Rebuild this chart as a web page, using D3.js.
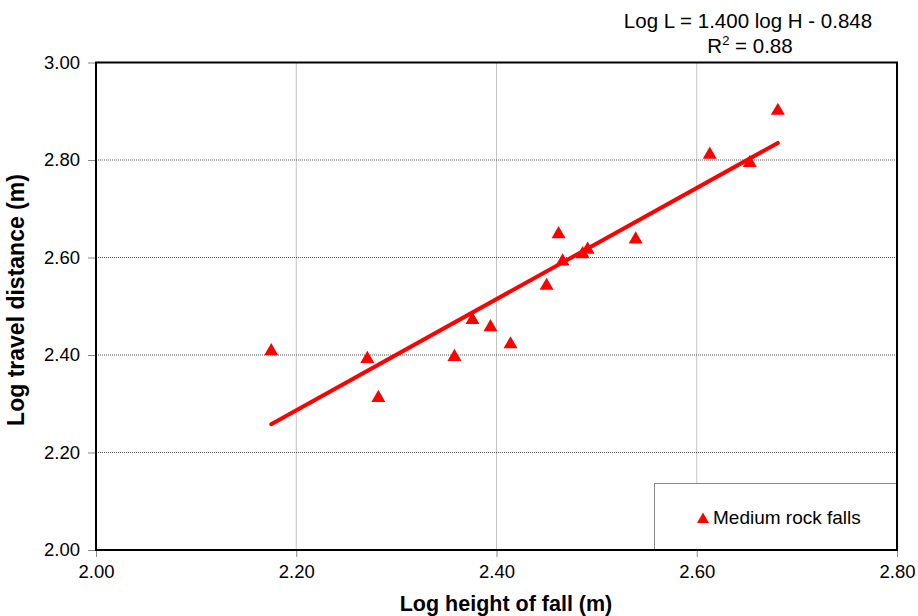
<!DOCTYPE html>
<html>
<head>
<meta charset="utf-8">
<script src="https://cdn.jsdelivr.net/npm/d3@7"></script>
<style>
  body { margin: 0; background: #fff; }
  text { font-family: "Liberation Sans", Arial, sans-serif; fill: #000; }
</style>
</head>
<body>
<svg id="chart" width="918" height="616"></svg>
<script>
'use strict';

// log height of fall (m), log travel distance (m)
var logHeight = [2.175, 2.271, 2.282, 2.358, 2.376, 2.394, 2.414, 2.450,
                 2.462, 2.466, 2.486, 2.491, 2.539, 2.613, 2.653, 2.681];
var logTravel = [2.408, 2.392, 2.312, 2.396, 2.472, 2.457, 2.422, 2.542,
                 2.648, 2.592, 2.607, 2.616, 2.637, 2.811, 2.794, 2.901];

// fitted line as drawn in the figure
var fitX = [2.175, 2.681];
var fitY = [2.258, 2.835];

var xTicks = [2.00, 2.20, 2.40, 2.60, 2.80];
var yTicks = [2.00, 2.20, 2.40, 2.60, 2.80, 3.00];

var equationText = 'Log L = 1.400 log H - 0.848';
var seriesName = 'Medium rock falls';

var plotLeft = 96, plotRight = 897, plotTop = 62.5, plotBottom = 550;

var svg = d3.select('#chart');

var x = d3.scaleLinear().domain([2.0, 2.8]).range([plotLeft, plotRight]);
var y = d3.scaleLinear().domain([2.0, 3.0]).range([plotBottom, plotTop]);

// gridlines
svg.append('g')
    .selectAll('line')
    .data(xTicks.slice(1, -1))
  .enter().append('line')
    .attr('x1', function(d) { return x(d); })
    .attr('x2', function(d) { return x(d); })
    .attr('y1', plotTop).attr('y2', plotBottom)
    .attr('stroke', '#888').attr('stroke-width', 1)
    .attr('stroke-dasharray', '1,1');
svg.append('g')
    .selectAll('line')
    .data(yTicks.slice(1, -1))
  .enter().append('line')
    .attr('y1', function(d) { return y(d); })
    .attr('y2', function(d) { return y(d); })
    .attr('x1', plotLeft).attr('x2', plotRight)
    .attr('stroke', '#555').attr('stroke-width', 1)
    .attr('stroke-dasharray', '1,1');

// axes (ticks + labels only, frame drawn separately)
var xAxis = svg.append('g')
    .attr('transform', 'translate(0,' + plotBottom + ')')
    .call(d3.axisBottom(x).tickValues(xTicks).tickFormat(d3.format('.2f'))
      .tickSize(7).tickPadding(8));
var yAxis = svg.append('g')
    .attr('transform', 'translate(' + plotLeft + ',0)')
    .call(d3.axisLeft(y).tickValues(yTicks).tickFormat(d3.format('.2f'))
      .tickSize(8).tickPadding(8));
[xAxis, yAxis].forEach(function(a) {
  a.select('.domain').remove();
  a.selectAll('.tick line').attr('stroke', '#888');
  a.selectAll('.tick text')
      .style('font-family', '"Liberation Sans", Arial, sans-serif')
      .style('font-size', '18.5px').attr('fill', '#000');
});

// regression line
svg.append('path')
    .datum(d3.zip(fitX, fitY))
    .attr('d', d3.line().x(function(d) { return x(d[0]); }).y(function(d) { return y(d[1]); }))
    .attr('stroke', '#ff0000').attr('stroke-width', 4)
    .attr('stroke-linecap', 'round').attr('fill', 'none');

// markers
var tri = d3.symbol().type(d3.symbolTriangle).size(85);
svg.append('g')
    .selectAll('path')
    .data(d3.zip(logHeight, logTravel))
  .enter().append('path')
    .attr('d', tri)
    .attr('transform', function(d) { return 'translate(' + x(d[0]) + ',' + y(d[1]) + ')'; })
    .attr('fill', '#ff0000');

// legend
var legend = svg.append('g');
legend.append('rect')
    .attr('x', 654.5).attr('y', 483.5)
    .attr('width', plotRight - 654.5).attr('height', plotBottom - 483.5)
    .attr('fill', '#fff').attr('stroke', '#888').attr('stroke-width', 1);
legend.append('path')
    .attr('d', d3.symbol().type(d3.symbolTriangle).size(62))
    .attr('transform', 'translate(703,519.5)')
    .attr('fill', '#ff0000');
legend.append('text')
    .attr('x', 713).attr('y', 524)
    .style('font-size', '19px')
    .text(seriesName);

// plot frame
svg.append('rect')
    .attr('x', plotLeft).attr('y', plotTop)
    .attr('width', plotRight - plotLeft).attr('height', plotBottom - plotTop)
    .attr('fill', 'none').attr('stroke', '#000').attr('stroke-width', 2);

// equation
svg.append('text')
    .attr('x', 748).attr('y', 28)
    .attr('text-anchor', 'middle')
    .style('font-size', '20.5px')
    .text(equationText);
var r2 = svg.append('text')
    .attr('x', 750).attr('y', 53)
    .attr('text-anchor', 'middle')
    .style('font-size', '20.5px');
r2.append('tspan').text('R');
r2.append('tspan').attr('dy', -8).style('font-size', '13px').text('2');
r2.append('tspan').attr('dy', 8).text(' = 0.88');

// axis titles
svg.append('text')
    .attr('x', 506).attr('y', 611)
    .attr('text-anchor', 'middle')
    .style('font-size', '21.5px').style('font-weight', 'bold')
    .text('Log height of fall (m)');
svg.append('text')
    .attr('transform', 'translate(24,300) rotate(-90)')
    .attr('text-anchor', 'middle')
    .style('font-size', '23px').style('font-weight', 'bold')
    .text('Log travel distance (m)');
</script>
</body>
</html>
